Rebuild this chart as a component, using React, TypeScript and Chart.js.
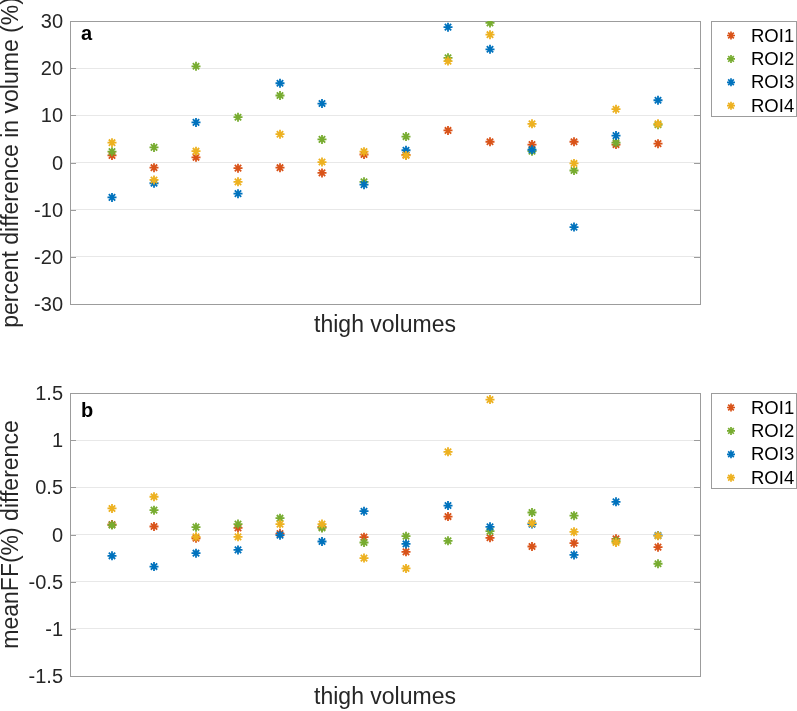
import React, { useEffect, useRef } from 'react';
import { Chart, registerables } from 'chart.js';

Chart.register(...registerables);

// ---------------- data ----------------
const seriesNames = ['ROI1', 'ROI2', 'ROI3', 'ROI4'];
const seriesColors = ['#D95319', '#77AC30', '#0072BD', '#EDB120'];
const thighIndex = [1, 2, 3, 4, 5, 6, 7, 8, 9, 10, 11, 12, 13, 14];

// panel a: percent difference in volume (%)
const volROI1 = [1.5, -1.1, 1.1, -1.2, -1.1, -2.2, 1.7, 1.6, 6.8, 4.4, 3.8, 4.4, 3.8, 4.0];
const volROI2 = [2.3, 3.2, 20.4, 9.6, 14.2, 4.9, -4.1, 5.5, 22.2, 29.6, 2.4, -1.7, 4.2, 8.0];
const volROI3 = [-7.4, -4.4, 8.5, -6.6, 16.8, 12.5, -4.7, 2.6, 28.7, 24.0, 2.7, -13.7, 5.7, 13.2];
const volROI4 = [4.2, -3.7, 2.4, -4.1, 6.0, 0.1, 2.3, 1.5, 21.5, 27.1, 8.2, -0.2, 11.3, 8.2];

// panel b: meanFF(%) difference
const ffROI1 = [0.106, 0.085, -0.04, 0.07, 0.01, 0.08, -0.028, -0.184, 0.19, -0.035, -0.127, -0.092, -0.046, -0.134];
const ffROI2 = [0.10, 0.258, 0.078, 0.11, 0.173, 0.07, -0.085, -0.018, -0.067, 0.035, 0.233, 0.2, -0.07, -0.31];
const ffROI3 = [-0.226, -0.34, -0.198, -0.163, -0.007, -0.074, 0.247, -0.1, 0.307, 0.081, 0.11, -0.216, 0.346, -0.01];
const ffROI4 = [0.276, 0.40, -0.025, -0.025, 0.11, 0.11, -0.25, -0.36, 0.876, 1.43, 0.12, 0.028, -0.085, -0.014];

const volTicks = [-30, -20, -10, 0, 10, 20, 30];
const ffTicks = [-1.5, -1, -0.5, 0, 0.5, 1, 1.5];

const FONT = '"Liberation Sans", Arial, Helvetica, sans-serif';
const AXIS_COLOR = '#262626';
const FRAME_COLOR = '#9c9c9c';

// ---------------- plugin: frame, inward ticks, panel letter, legend ----------------
const matlabPlugin = {
  id: 'matlab',
  beforeDatasetsDraw(chart: any, _args: any, opts: any) {
    const { ctx, chartArea } = chart;
    const { left, right, top, bottom } = chartArea;
    const y = chart.scales.y;
    ctx.save();
    ctx.strokeStyle = FRAME_COLOR;
    ctx.lineWidth = 1;
    const tickLen = 6;
    (opts.tickValues || []).forEach((v: number) => {
      const py = Math.round(y.getPixelForValue(v)) + 0.5;
      ctx.beginPath();
      ctx.moveTo(left, py);
      ctx.lineTo(left + tickLen, py);
      ctx.moveTo(right, py);
      ctx.lineTo(right - tickLen, py);
      ctx.stroke();
    });
    ctx.strokeRect(Math.round(left) + 0.5, Math.round(top) + 0.5, Math.round(right - left), Math.round(bottom - top));
    ctx.restore();
  },
  afterDraw(chart: any, _args: any, opts: any) {
    const { ctx, chartArea } = chart;
    const { left, right, top } = chartArea;
    ctx.save();
    // panel letter
    ctx.fillStyle = '#000';
    ctx.font = `bold 20px ${FONT}`;
    ctx.textAlign = 'left';
    ctx.textBaseline = 'alphabetic';
    ctx.fillText(opts.letter, left + 11, top + opts.letterOffset);

    // legend
    const bx = right + 11;
    const bw = 85;
    const bh = 95;
    const by = top - 0.5;
    ctx.fillStyle = '#fff';
    ctx.fillRect(bx, by, bw, bh);
    ctx.strokeStyle = FRAME_COLOR;
    ctx.lineWidth = 1;
    ctx.strokeRect(Math.round(bx) + 0.5, Math.round(by) + 0.5, bw, bh);
    ctx.font = `18.5px ${FONT}`;
    ctx.textBaseline = 'middle';
    chart.data.datasets.forEach((ds: any, i: number) => {
      const cy = by + 15 + i * 23.4;
      const cx = bx + 20;
      const r = 4;
      ctx.strokeStyle = ds.borderColor;
      ctx.lineWidth = 1.7;
      ctx.beginPath();
      ctx.moveTo(cx - r, cy);
      ctx.lineTo(cx + r, cy);
      ctx.moveTo(cx, cy - r);
      ctx.lineTo(cx, cy + r);
      const d = r * Math.SQRT1_2;
      ctx.moveTo(cx - d, cy - d);
      ctx.lineTo(cx + d, cy + d);
      ctx.moveTo(cx - d, cy + d);
      ctx.lineTo(cx + d, cy - d);
      ctx.stroke();
      ctx.fillStyle = '#000';
      ctx.fillText(ds.label, bx + 40, cy + 1);
    });
    ctx.restore();
  },
};

type PanelProps = {
  top: number;
  height: number;
  padTop: number;
  padBottom: number;
  yMin: number;
  yMax: number;
  yStep: number;
  yTitle: string;
  letter: string;
  letterOffset: number;
  tickValues: number[];
  series: number[][];
};

function Panel(props: PanelProps) {
  const ref = useRef<HTMLCanvasElement | null>(null);
  useEffect(() => {
    if (!ref.current) return;
    const datasets = props.series.map((vals, i) => ({
      label: seriesNames[i],
      data: thighIndex.map((x, k) => ({ x, y: vals[k] })),
      borderColor: seriesColors[i],
      backgroundColor: seriesColors[i],
      pointStyle: 'star',
      pointRadius: 4.5,
      pointHoverRadius: 4.5,
      borderWidth: 1.8,
      showLine: false,
      order: 3 - i,
    }));
    const chart = new Chart(ref.current, {
      type: 'scatter',
      data: { datasets },
      plugins: [matlabPlugin],
      options: {
        animation: false,
        responsive: false,
        maintainAspectRatio: false,
        layout: { padding: { left: 0, right: 97, top: props.padTop, bottom: props.padBottom } },
        plugins: {
          legend: { display: false },
          tooltip: { enabled: false },
          matlab: { letter: props.letter, letterOffset: props.letterOffset, tickValues: props.tickValues },
        } as any,
        scales: {
          x: {
            type: 'linear',
            min: 0,
            max: 15,
            ticks: { display: false },
            grid: { display: false, drawTicks: false },
            border: { display: false },
            title: {
              display: true,
              text: 'thigh volumes',
              color: AXIS_COLOR,
              font: { family: FONT, size: 23 },
              padding: { top: 0, bottom: 0 },
            },
            afterFit: (s: any) => {
              s.height = 35;
            },
          },
          y: {
            type: 'linear',
            min: props.yMin,
            max: props.yMax,
            ticks: {
              stepSize: props.yStep,
              padding: 7,
              color: AXIS_COLOR,
              font: { family: FONT, size: 20 },
              labelOffset: 1.5,
              callback: (v: any) => String(Number(v)),
            },
            grid: { color: '#e8e8e8', drawTicks: false, lineWidth: 1 },
            border: { display: false },
            title: {
              display: true,
              text: props.yTitle,
              color: AXIS_COLOR,
              font: { family: FONT, size: 23, lineHeight: 1 },
              padding: { top: 0, bottom: 0 },
            },
            afterFit: (s: any) => {
              s.width = 70;
            },
          },
        },
      } as any,
    });
    return () => chart.destroy();
  }, []);
  return (
    <div style={{ position: 'absolute', left: 0, top: props.top, width: 797, height: props.height }}>
      <canvas ref={ref} width={797} height={props.height} style={{ display: 'block' }} />
    </div>
  );
}

export default function App() {
  return (
    <div style={{ position: 'fixed', left: 0, top: 0, width: 797, height: 711, background: '#fff', overflow: 'hidden' }}>
      <Panel
        top={0}
        height={360}
        padTop={21}
        padBottom={21}
        yMin={-30}
        yMax={30}
        yStep={10}
        yTitle="percent difference in volume (%)"
        letter="a"
        letterOffset={18.5}
        tickValues={volTicks}
        series={[volROI1, volROI2, volROI3, volROI4]}
      />
      <Panel
        top={360}
        height={351}
        padTop={33}
        padBottom={0}
        yMin={-1.5}
        yMax={1.5}
        yStep={0.5}
        yTitle="meanFF(%) difference"
        letter="b"
        letterOffset={24}
        tickValues={ffTicks}
        series={[ffROI1, ffROI2, ffROI3, ffROI4]}
      />
    </div>
  );
}
